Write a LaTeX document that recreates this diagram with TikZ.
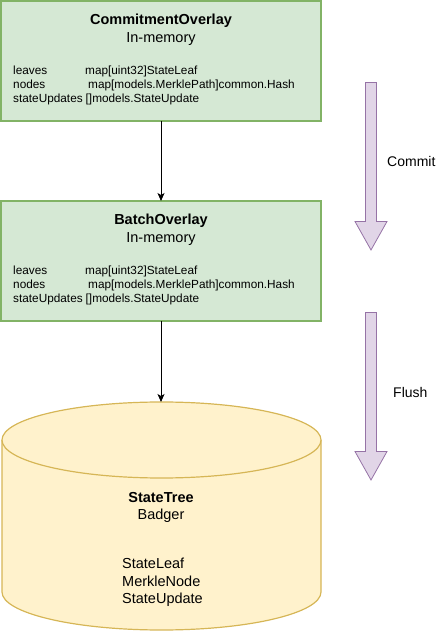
\documentclass[tikz,border=0pt]{standalone}
\usepackage{fontspec}
\setmainfont{Liberation Sans}
\usetikzlibrary{arrows.meta}
\definecolor{gfill}{HTML}{D5E8D4}
\definecolor{gline}{HTML}{82B366}
\definecolor{yfill}{HTML}{FFF2CC}
\definecolor{yline}{HTML}{D6B656}
\definecolor{pfill}{HTML}{E1D5E7}
\definecolor{pline}{HTML}{9673A6}
\tikzset{
  overlaybox/.style={draw=gline,fill=gfill,line width=1.2pt,minimum width=320pt,minimum height=120pt,inner sep=0pt,outer sep=0pt},
  title/.style={inner sep=0pt,anchor=base,font=\fontsize{14.5}{17}\selectfont\bfseries},
  sub/.style={inner sep=0pt,anchor=base,font=\fontsize{14.5}{17}\selectfont},
  field/.style={inner sep=0pt,anchor=base west,font=\fontsize{11.8}{14}\selectfont},
  bigtxt/.style={inner sep=0pt,anchor=base west,font=\fontsize{14.5}{17}\selectfont},
  conn/.style={line width=0.8pt,-{Stealth[length=8pt,width=7pt,inset=2pt]}},
  blockarrow/.style={draw=pline,fill=pfill,line width=0.8pt,line join=miter},
  store/.style={draw=yline,fill=yfill,line width=1.2pt}
}
\begin{document}
\begin{tikzpicture}[x=1pt,y=1pt]
\useasboundingbox (0,0) rectangle (437,632);
% boxes
\node[overlaybox] (commit) at (161,571) {};
\node[overlaybox] (batch) at (161,371) {};
% cylinder
\draw[store] (2,192) -- (2,40) arc[start angle=180,end angle=360,x radius=159.5pt,y radius=38pt]
  -- (321,192) arc[start angle=0,end angle=180,x radius=159.5pt,y radius=38pt] -- cycle;
\draw[store] (2,192) arc[start angle=180,end angle=360,x radius=159.5pt,y radius=38pt];
\coordinate (treetop) at (161,230);
% texts box 1
\node[title] (t1) at (161,607.5) {CommitmentOverlay};
\node[sub] (s1) at (161,589) {In-memory};
\node[field] (l1) at (13,557) {leaves};
\node[field] (lv1) at (85,557) {map[uint32]StateLeaf};
\node[field] (n1) at (13,543) {nodes};
\node[field] (nv1) at (88,543) {map[models.MerklePath]common.Hash};
\node[field] (u1) at (13,529) {stateUpdates};
\node[field] (uv1) at (85.5,529) {[]models.StateUpdate};
% texts box 2
\node[title] (t2) at (161,407.5) {BatchOverlay};
\node[sub] (s2) at (161,389) {In-memory};
\node[field] (l2) at (13,357) {leaves};
\node[field] (lv2) at (85,357) {map[uint32]StateLeaf};
\node[field] (n2) at (13,343) {nodes};
\node[field] (nv2) at (88,343) {map[models.MerklePath]common.Hash};
\node[field] (u2) at (13,329) {stateUpdates};
\node[field] (uv2) at (85.5,329) {[]models.StateUpdate};
% cylinder texts
\node[title] (t3) at (161,129) {StateTree};
\node[sub] (s3) at (161,112) {Badger};
\node[bigtxt] (e1) at (122,63) {StateLeaf};
\node[bigtxt] (e2) at (122,45) {MerkleNode};
\node[bigtxt] (e3) at (122,28) {StateUpdate};
% connectors
\draw[conn] (commit.south) -- (batch.north);
\draw[conn] (batch.south) -- (treetop);
% block arrows
\draw[blockarrow] (365.5,549.5) -- (376.5,549.5) -- (376.5,410.5) -- (387,410.5) -- (371,382) -- (355,410.5) -- (365.5,410.5) -- cycle;
\draw[blockarrow] (365.5,319.5) -- (376.5,319.5) -- (376.5,180.5) -- (387,180.5) -- (371,152) -- (355,180.5) -- (365.5,180.5) -- cycle;
\node[bigtxt,font=\fontsize{14}{17}\selectfont] (commitlbl) at (387,465) {Commit};
\node[bigtxt,font=\fontsize{14}{17}\selectfont] (flushlbl) at (393,234) {Flush};
\end{tikzpicture}
\end{document}
